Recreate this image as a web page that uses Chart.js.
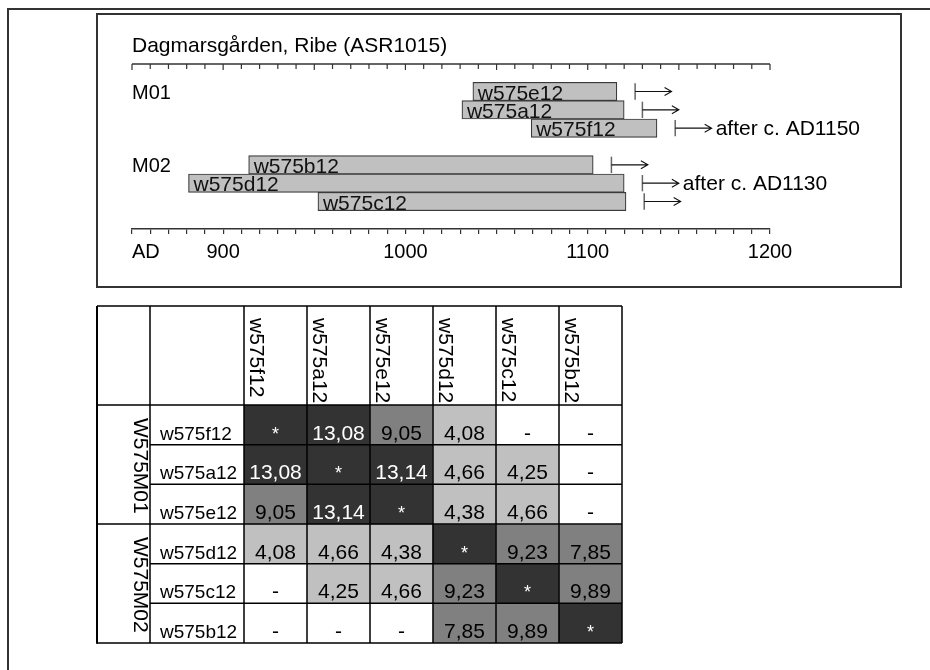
<!DOCTYPE html>
<html>
<head>
<meta charset="utf-8">
<title>Dagmarsgården, Ribe (ASR1015)</title>
<script src="https://cdn.jsdelivr.net/npm/chart.js@4.4.1/dist/chart.umd.min.js"></script>
<style>
  html, body { margin: 0; padding: 0; background: #fff; }
  body { width: 930px; height: 670px; position: relative; overflow: hidden; }
  #page { position: absolute; left: 7px; top: 8px; width: 940px; height: 680px;
          border-left: 2px solid #333; border-top: 2px solid #333; }
  #box { position: absolute; left: 96px; top: 13px; width: 802px; height: 271px;
         border: 2px solid #333; }
  #datingChart { position: absolute; left: 0; top: 0; }
  #tableChart { position: absolute; left: 90px; top: 300px; }
</style>
</head>
<body>
<div id="page"></div>
<div id="box"><canvas id="datingChart" width="802" height="271"></canvas></div>
<canvas id="tableChart" width="540" height="350"></canvas>
<script>
/* ---- bar diagram data ---- */
const chartTitle = 'Dagmarsgården, Ribe (ASR1015)';
const samples    = ['w575e12', 'w575a12', 'w575f12', 'w575b12', 'w575d12', 'w575c12'];
const sampleRow  = [0, 1, 2, 4, 5, 6];
const firstRing  = [1037, 1031, 1069, 914, 881, 952];
const lastRing   = [1116, 1120, 1138, 1103, 1120, 1121];
const fellingMin = [1126, 1130, 1148, 1113, 1130, 1131];
const arrowYears = 20;
const groupNames = ['M01', 'M02'];
const groupRow   = [0, 4];
const noteText   = ['after c. AD1150', 'after c. AD1130'];
const noteSample = [2, 4];
const axisStart  = 850;
const axisEnd    = 1200;
const axisLabels = [900, 1000, 1100, 1200];

/* ---- t-value matrix data (null = no value / diagonal) ---- */
const matrixNames  = ['w575f12', 'w575a12', 'w575e12', 'w575d12', 'w575c12', 'w575b12'];
const matrixGroups = ['W575M01', 'W575M02'];
const tValues = [
  [null, 13.08, 9.05, 4.08, null, null],
  [13.08, null, 13.14, 4.66, 4.25, null],
  [9.05, 13.14, null, 4.38, 4.66, null],
  [4.08, 4.66, 4.38, null, 9.23, 7.85],
  [null, 4.25, 4.66, 9.23, null, 9.89],
  [null, null, null, 7.85, 9.89, null],
];

const FONT = '"Liberation Sans", Arial, Helvetica, sans-serif';
Chart.defaults.font.family = FONT;
Chart.defaults.color = '#000';

function cellFill(r, c) {
  const t = tValues[r][c];
  if (r === c || t >= 10) return '#333333';
  if (t >= 7) return '#808080';
  if (t >= 4) return '#c0c0c0';
  return '#ffffff';
}

function cellText(r, c) {
  if (r === c) return '*';
  const t = tValues[r][c];
  return t === null ? '-' : t.toFixed(2).replace('.', ',');
}

/* labels, felling arrows, top axis */
const datingDecor = {
  id: 'datingDecor',
  afterDatasetsDraw(chart) {
    const { ctx, chartArea: a, scales: { x, y } } = chart;
    const half = (y.getPixelForValue(1) - y.getPixelForValue(0)) / 2;
    ctx.save();

    // top axis with ticks hanging down
    ctx.strokeStyle = '#333';
    ctx.lineWidth = 1.5;
    ctx.beginPath();
    ctx.moveTo(a.left, a.top);
    ctx.lineTo(a.right, a.top);
    ctx.stroke();
    ctx.lineWidth = 1.2;
    x.ticks.forEach(t => {
      const px = x.getPixelForValue(t.value);
      ctx.beginPath();
      ctx.moveTo(px, a.top);
      ctx.lineTo(px, a.top + (t.value % 50 === 0 ? 6 : 5));
      ctx.stroke();
    });

    ctx.fillStyle = '#000';
    ctx.textAlign = 'left';
    ctx.textBaseline = 'alphabetic';
    ctx.font = '21px ' + FONT;
    ctx.fillText(chartTitle, a.left, a.top - 12);
    ctx.font = '20px ' + FONT;
    ctx.fillText('AD', a.left, a.bottom + 29);

    ctx.textBaseline = 'middle';
    groupNames.forEach((g, i) => {
      ctx.fillText(g, a.left, y.getPixelForValue(groupRow[i]) + 2);
    });

    samples.forEach((s, i) => {
      const cy = y.getPixelForValue(sampleRow[i]);
      // sample name inside the bar
      ctx.font = '21px ' + FONT;
      ctx.textBaseline = 'alphabetic';
      ctx.fillStyle = '#111';
      ctx.fillText(s, x.getPixelForValue(firstRing[i]) + 5, cy + half - 1);

      // felling tick and arrow
      const fx = x.getPixelForValue(fellingMin[i]);
      const ax = x.getPixelForValue(fellingMin[i] + arrowYears);
      ctx.strokeStyle = '#666';
      ctx.lineWidth = 1.5;
      ctx.beginPath();
      ctx.moveTo(fx, cy - half + 1);
      ctx.lineTo(fx, cy + half - 1);
      ctx.stroke();
      ctx.strokeStyle = '#111';
      ctx.lineWidth = 1.1;
      ctx.beginPath();
      ctx.moveTo(fx, cy);
      ctx.lineTo(ax, cy);
      ctx.moveTo(ax - 7, cy - 4);
      ctx.lineTo(ax, cy);
      ctx.lineTo(ax - 7, cy + 4);
      ctx.stroke();
    });

    ctx.font = '21px ' + FONT;
    ctx.textBaseline = 'middle';
    ctx.fillStyle = '#000';
    noteText.forEach((n, k) => {
      const i = noteSample[k];
      const ax = x.getPixelForValue(fellingMin[i] + arrowYears);
      ctx.fillText(n, ax + 4, y.getPixelForValue(sampleRow[i]) + 1);
    });
    ctx.restore();
  }
};

new Chart(document.getElementById('datingChart'), {
  type: 'bar',
  data: {
    datasets: [{
      data: samples.map((s, i) => ({ x: [firstRing[i], lastRing[i]], y: sampleRow[i] })),
      backgroundColor: '#c0c0c0',
      borderColor: '#3a3a3a',
      borderWidth: 1.2,
      borderSkipped: false,
      barPercentage: 1,
      categoryPercentage: 1,
    }],
  },
  options: {
    indexAxis: 'y',
    responsive: false,
    animation: false,
    layout: { padding: { left: 34, right: 130, top: 49, bottom: 27 } },
    scales: {
      x: {
        type: 'linear',
        min: axisStart,
        max: axisEnd,
        afterFit: (s) => { s.height = 30; },
        border: { display: true, color: '#333', width: 1.5 },
        grid: { drawOnChartArea: false, drawTicks: true, tickLength: 5, color: '#333', lineWidth: 1.2 },
        ticks: {
          stepSize: 10,
          autoSkip: false,
          maxRotation: 0,
          padding: 6,
          font: { size: 20 },
          color: '#000',
          callback: (v) => axisLabels.includes(v) ? String(v) : '',
        },
      },
      y: {
        type: 'linear',
        min: -1.5,
        max: 7.5,
        reverse: true,
        offset: false,
        display: false,
        ticks: { stepSize: 1, includeBounds: false },
      },
    },
    plugins: { legend: { display: false }, tooltip: { enabled: false } },
  },
  plugins: [datingDecor],
});

/* table lines, headers and values */
const tableDecor = {
  id: 'tableDecor',
  afterDatasetsDraw(chart) {
    const { ctx, chartArea: a, scales: { x, y } } = chart;
    const halfW = (x.getPixelForValue(1) - x.getPixelForValue(0)) / 2;
    const tableLeft = a.left - 147;
    const groupRight = a.left - 94;
    const headerTop = a.top - 99;
    const n = matrixNames.length;
    ctx.save();

    // text
    ctx.fillStyle = '#000';
    ctx.font = '21px ' + FONT;
    ctx.textBaseline = 'middle';
    ctx.textAlign = 'left';
    matrixNames.forEach((name, c) => {
      const cx = x.getPixelForValue(c) - halfW + 11.5;
      ctx.save();
      ctx.translate(cx, headerTop + 12);
      ctx.rotate(Math.PI / 2);
      ctx.fillText(name, 0, 0);
      ctx.restore();
    });
    matrixGroups.forEach((g, k) => {
      ctx.save();
      ctx.translate(groupRight - 10, y.getPixelForValue(k * 3) + 13);
      ctx.rotate(Math.PI / 2);
      ctx.fillText(g, 0, 0);
      ctx.restore();
    });

    ctx.textBaseline = 'alphabetic';
    matrixNames.forEach((name, r) => {
      const base = y.getPixelForValue(r + 1) - 5;
      ctx.font = '19px ' + FONT;
      ctx.textAlign = 'left';
      ctx.fillStyle = '#000';
      ctx.fillText(name, groupRight + 10, base);
      ctx.textAlign = 'center';
      matrixNames.forEach((col, c) => {
        const dark = cellFill(r, c) === '#333333';
        ctx.fillStyle = dark ? '#fff' : '#000';
        ctx.font = (r === c ? '18px ' : '21px ') + FONT;
        ctx.fillText(cellText(r, c), x.getPixelForValue(c), base);
      });
    });

    // grid lines
    ctx.strokeStyle = '#000';
    ctx.lineWidth = 1.5;
    ctx.beginPath();
    ctx.moveTo(tableLeft, headerTop);
    ctx.lineTo(a.right, headerTop);
    for (let k = 0; k <= n; k++) {
      const py = y.getPixelForValue(k);
      ctx.moveTo(k % 3 === 0 ? tableLeft : groupRight, py);
      ctx.lineTo(a.right, py);
    }
    [groupRight, a.left].forEach(px => {
      ctx.moveTo(px, headerTop);
      ctx.lineTo(px, a.bottom);
    });
    for (let c = 0; c < n; c++) {
      const px = x.getPixelForValue(c) + halfW;
      ctx.moveTo(px, headerTop);
      ctx.lineTo(px, a.bottom);
    }
    ctx.stroke();
    ctx.lineWidth = 2;
    ctx.beginPath();
    ctx.moveTo(tableLeft, headerTop);
    ctx.lineTo(tableLeft, a.bottom + 0.75);
    ctx.stroke();
    ctx.restore();
  }
};

new Chart(document.getElementById('tableChart'), {
  type: 'bar',
  data: {
    labels: matrixNames,
    datasets: matrixNames.map((name, r) => ({
      label: name,
      data: matrixNames.map(() => 1),
      backgroundColor: (c) => cellFill(r, c.dataIndex),
      borderWidth: 0,
      barPercentage: 1,
      categoryPercentage: 1,
      stack: 'cells',
    })),
  },
  options: {
    responsive: false,
    animation: false,
    layout: { padding: { left: 154, right: 8, top: 105, bottom: 7 } },
    scales: {
      x: { stacked: true, display: false },
      y: { stacked: true, display: false, reverse: true, min: 0, max: 6 },
    },
    plugins: { legend: { display: false }, tooltip: { enabled: false } },
  },
  plugins: [tableDecor],
});
</script>
</body>
</html>
